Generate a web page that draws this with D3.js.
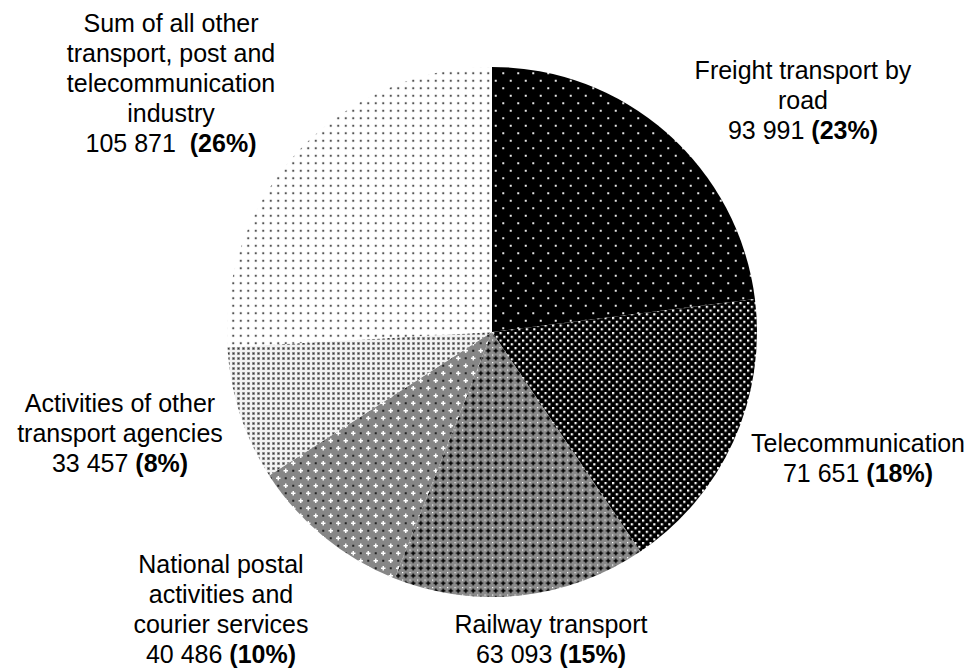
<!DOCTYPE html>
<html>
<head>
<meta charset="utf-8">
<script src="https://cdn.jsdelivr.net/npm/d3@7"></script>
<style>
  html, body { margin: 0; padding: 0; background: #fff; }
  svg { display: block; }
  text { font-family: "Liberation Sans", Arial, sans-serif; fill: #000; }
</style>
</head>
<body>
<svg id="chart" width="975" height="672"></svg>
<script>
// Gross value added by activity (transport, post and telecommunication)
const categories = [
  "Freight transport by road",
  "Telecommunication",
  "Railway transport",
  "National postal activities and courier services",
  "Activities of other transport agencies",
  "Sum of all other transport, post and telecommunication industry"
];
const values = [93991, 71651, 63093, 40486, 33457, 105871];
const valueLabels = ["93 991", "71 651", "63 093", "40 486", "33 457", "105 871"];
const percentLabels = ["(23%)", "(18%)", "(15%)", "(10%)", "(8%)", "(26%)"];
// label line breaks as set in the chart
const labelLines = [
  ["Freight transport by", "road"],
  ["Telecommunication"],
  ["Railway transport"],
  ["National postal", "activities and", "courier services"],
  ["Activities of other", "transport agencies"],
  ["Sum of all other", "transport, post and", "telecommunication", "industry"]
];
const valueSeparators = [" ", " ", " ", " ", " ", "  "];

const W = 975, H = 672;
const cx = 492, cy = 332, R = 265;
const lineH = 30;
const fontSize = 25;

const svg = d3.select("#chart");
const defs = svg.append("defs");

// Fill patterns, one per slice
function pattern(id, w, h, bg, draw) {
  const p = defs.append("pattern")
    .attr("id", id)
    .attr("patternUnits", "userSpaceOnUse")
    .attr("width", w).attr("height", h);
  p.append("rect").attr("width", w).attr("height", h).attr("fill", bg);
  draw(p);
}

// freight: black with sparse white dots on a staggered grid
pattern("pat0", 15, 15, "#000", p => {
  [[3.75, 3.75], [11.25, 11.25]].forEach(([x, y]) =>
    p.append("rect").attr("x", x - 1).attr("y", y - 1).attr("width", 2).attr("height", 2).attr("fill", "#e6e6e6"));
});
// telecommunication: black with denser white squares
pattern("pat1", 7.5, 7.5, "#000", p => {
  [[0, 0], [3.75, 3.75]].forEach(([x, y]) =>
    p.append("rect").attr("x", x).attr("y", y).attr("width", 2.2).attr("height", 2.2).attr("fill", "#fff"));
});
// railway: grey with black crosses and white points
pattern("pat2", 7.5, 7.5, "#8a8a8a", p => {
  p.append("rect").attr("x", 3).attr("y", 1.5).attr("width", 1.5).attr("height", 4.5).attr("fill", "#000");
  p.append("rect").attr("x", 1.5).attr("y", 3).attr("width", 4.5).attr("height", 1.5).attr("fill", "#000");
  p.append("rect").attr("x", 0).attr("y", 0).attr("width", 1.2).attr("height", 1.2).attr("fill", "#fff");
});
// postal: mid grey with white plus signs
pattern("pat3", 15, 15, "#868686", p => {
  [[3.75, 3.75], [11.25, 11.25]].forEach(([x, y]) => {
    p.append("rect").attr("x", x - 0.75).attr("y", y - 2.25).attr("width", 1.5).attr("height", 4.5).attr("fill", "#fff");
    p.append("rect").attr("x", x - 2.25).attr("y", y - 0.75).attr("width", 4.5).attr("height", 1.5).attr("fill", "#fff");
  });
  [[11.25, 3.75], [3.75, 11.25]].forEach(([x, y]) =>
    p.append("rect").attr("x", x - 1).attr("y", y - 1).attr("width", 2).attr("height", 2).attr("fill", "#222"));
});
// other transport agencies: light grey checked texture
pattern("pat4", 5, 5, "#f2f2f2", p => {
  p.append("rect").attr("x", 0).attr("y", 0).attr("width", 3).attr("height", 3).attr("fill", "#a0a0a0");
  p.append("rect").attr("x", 0.75).attr("y", 0.75).attr("width", 1.5).attr("height", 1.5).attr("fill", "#3a3a3a");
});
// all other: white with small grey dots
pattern("pat5", 7.5, 7.5, "#fff", p => {
  p.append("rect").attr("x", 2.75).attr("y", 2.75).attr("width", 2).attr("height", 2).attr("fill", "#555");
});

const pie = d3.pie().sort(null).value(d => d)(values);
const arc = d3.arc().innerRadius(0).outerRadius(R);

const g = svg.append("g").attr("transform", `translate(${cx},${cy})`);
g.selectAll("path.slice")
  .data(pie)
  .join("path")
  .attr("class", "slice")
  .attr("d", arc)
  .attr("fill", (d, i) => `url(#pat${i})`);

// label anchors: centre x and first baseline y
const labelPos = [
  [803, 79],
  [858, 452],
  [551, 633],
  [221, 573],
  [120, 412],
  [171, 32]
];

const labels = svg.append("g").attr("font-size", fontSize).attr("text-anchor", "middle");
categories.forEach((c, i) => {
  const [x, y] = labelPos[i];
  const t = labels.append("text").attr("x", x).attr("y", y);
  labelLines[i].forEach((line, k) => {
    t.append("tspan").attr("x", x).attr("dy", k === 0 ? 0 : lineH).text(line);
  });
  const last = t.append("tspan").attr("x", x).attr("dy", lineH);
  last.append("tspan").text(valueLabels[i] + valueSeparators[i]).style("white-space", "pre");
  last.append("tspan").attr("font-weight", "bold").text(percentLabels[i]);
});
</script>
</body>
</html>
